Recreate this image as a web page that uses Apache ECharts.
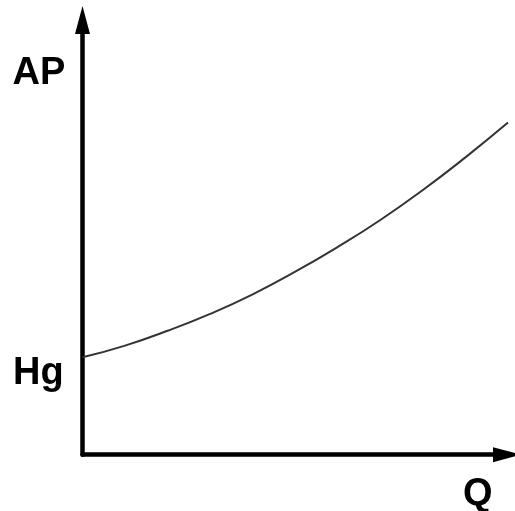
<!DOCTYPE html>
<html>
<head>
<meta charset="utf-8">
<script src="https://cdn.jsdelivr.net/npm/echarts@6/dist/echarts.min.js"></script>
<style>
  html, body { margin: 0; padding: 0; background: #fff; }
  #chart { width: 515px; height: 511px; }
</style>
</head>
<body>
<div id="chart"></div>
<script>
// Flow rate (Q) and the head required (AP); the curve starts at the static head Hg.
const flowQ = [0, 1, 2, 3, 4, 5, 6, 7, 8, 9, 10];
const headAP = [22.4, 25.1, 28.5, 32.4, 36.9, 42.1, 47.8, 54.0, 60.9, 68.4, 76.4];
const axisNames = { x: 'Q', y: 'AP', intercept: 'Hg' };

const chart = echarts.init(document.getElementById('chart'), null, { renderer: 'canvas' });

const labelFont = { fontFamily: 'Liberation Sans, Arial, sans-serif', fontSize: 38, fontWeight: 'bold', fill: '#000' };

chart.setOption({
  backgroundColor: '#fff',
  animation: false,
  grid: { left: 82.5, right: 7, top: 20, bottom: 56.3, containLabel: false },
  xAxis: {
    type: 'value', min: 0, max: 10,
    axisLine: {
      show: true,
      lineStyle: { color: '#000', width: 4.5 },
      symbol: ['none', 'triangle'],
      symbolSize: [15, 28],
      symbolOffset: [0, -1]
    },
    axisTick: { show: false }, axisLabel: { show: false }, splitLine: { show: false }
  },
  yAxis: {
    type: 'value', min: 0, max: 100,
    axisLine: {
      show: true,
      lineStyle: { color: '#000', width: 4.5 },
      symbol: ['none', 'triangle'],
      symbolSize: [15, 28]
    },
    axisTick: { show: false }, axisLabel: { show: false }, splitLine: { show: false }
  },
  series: [{
    type: 'line',
    data: flowQ.map((q, i) => [q, headAP[i]]),
    smooth: true,
    showSymbol: false,
    clip: false,
    lineStyle: { color: '#333', width: 2 }
  }],
  graphic: [
    { type: 'text', style: Object.assign({ text: axisNames.y, x: 12.5, y: 74, textAlign: 'left', textVerticalAlign: 'middle' }, labelFont) },
    { type: 'text', style: Object.assign({ text: axisNames.intercept, x: 13, y: 373.5, textAlign: 'left', textVerticalAlign: 'middle' }, labelFont) },
    { type: 'text', style: Object.assign({ text: axisNames.x, x: 463, y: 494.5, textAlign: 'left', textVerticalAlign: 'middle' }, labelFont) }
  ]
});
</script>
</body>
</html>
